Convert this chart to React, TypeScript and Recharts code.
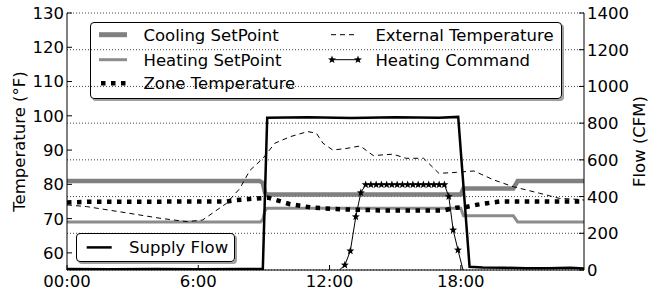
import React from 'react';
import { LineChart, Line, XAxis, YAxis, CartesianGrid, Legend } from 'recharts';

const FONT = '"DejaVu Sans", Verdana, sans-serif';
const FS = 16.5;

// axes
const hourTicks = [0, 6, 12, 18];
const hourLabels: Record<number, string> = { 0: '00:00', 6: '6:00', 12: '12:00', 18: '18:00' };
const hourDomain = [0, 23.63];
const tempTicks = [60, 70, 80, 90, 100, 110, 120, 130];
const flowTicks = [0, 200, 400, 600, 800, 1000, 1200, 1400];

// [hour, °F]
const coolingSetPoint: [number, number][] = [
  [0, 81], [8.8, 81], [8.95, 80.4], [9.05, 77.6], [9.15, 77], [18.0, 77], [18.12, 78.8],
  [20.4, 78.8], [20.6, 81], [23.63, 81],
];
const heatingSetPoint: [number, number][] = [
  [0, 69], [8.85, 69], [8.95, 69.8], [9.05, 72.4], [9.15, 73], [18.0, 73], [18.12, 70.8],
  [20.4, 70.8], [20.6, 69], [23.63, 69],
];
const zoneTemperature: [number, number][] = [
  [0, 74.7], [1, 74.9], [7.3, 75], [7.75, 75.4], [8.5, 75.8], [9.2, 76.1], [10.2, 74.2],
  [11.2, 73.2], [12.6, 72.7], [14.3, 72.4], [17.2, 72.4], [17.8, 73.2], [18.25, 73.4],
  [18.7, 74], [19.2, 74.5], [19.8, 75], [23.63, 75],
];
const externalTemperature: [number, number][] = [
  [0, 74], [0.9, 73.5], [2.7, 71.7], [4.25, 70.1], [5.5, 69.1], [6.2, 69.6], [7.3, 74.5],
  [7.9, 78.8], [8.35, 84], [8.96, 87.6], [9.5, 92], [10.2, 93.9], [11.0, 95.4], [11.4, 94.9],
  [11.7, 92], [12.15, 90], [12.8, 90.5], [13.4, 91.2], [14.0, 88.4], [14.9, 88.8],
  [15.5, 87.6], [16.3, 87.6], [17.0, 83.2], [17.8, 83.5], [18.6, 83.9], [19.5, 81.3],
  [20.4, 79.3], [21.6, 77.4], [22.5, 75.9], [23.4, 75.6], [23.63, 75.4],
];

// [hour, CFM]
const supplyFlow: [number, number][] = [
  [0, 5], [2, 4], [4, 6], [6, 4], [8, 5], [8.95, 5], [9.15, 830], [11, 832], [13, 828],
  [15, 832], [17, 830], [17.88, 834], [18.4, 18], [19, 14], [20, 12], [21, 10], [22, 9],
  [23, 12], [23.63, 8],
];
const heatingCommand: [number, number][] = [
  [12.45, 0], [12.7, 27], [12.95, 104], [13.2, 290], [13.43, 421],
  [13.65, 465], [13.89, 465], [14.13, 465], [14.37, 465], [14.61, 465], [14.85, 465],
  [15.09, 465], [15.33, 465], [15.57, 465], [15.81, 465], [16.05, 465], [16.29, 465],
  [16.53, 465], [16.77, 465], [17.01, 465], [17.25, 465],
  [17.45, 400], [17.65, 218], [17.87, 109], [18.1, 0],
];

const rows = (pts: [number, number][]) => pts.map(([h, v]) => ({ h, v }));

const TL = 5; // inward tick length

const LeftTick = (p: any) => (
  <g>
    <line x1={p.x + 3} x2={p.x + 3 + TL} y1={p.y} y2={p.y} stroke="#000" />
    <text x={p.x} y={p.y} dy="0.36em" textAnchor="end" fontSize={FS} fontFamily={FONT} fill="#000">
      {p.payload.value}
    </text>
  </g>
);

const RightTick = (p: any) => (
  <g>
    <line x1={p.x - 3} x2={p.x - 3 - TL} y1={p.y} y2={p.y} stroke="#000" />
    <text x={p.x} y={p.y} dy="0.36em" textAnchor="start" fontSize={FS} fontFamily={FONT} fill="#000">
      {p.payload.value}
    </text>
  </g>
);

const BottomTick = (p: any) => (
  <g>
    <line x1={p.x} x2={p.x} y1={p.y - 5} y2={p.y - 5 - TL} stroke="#000" />
    <text x={p.x} y={p.y} dy="0.71em" textAnchor="middle" fontSize={FS} fontFamily={FONT} fill="#000">
      {hourLabels[p.payload.value]}
    </text>
  </g>
);

const TopTick = (p: any) => (
  <line x1={p.x} x2={p.x} y1={p.y} y2={p.y + TL} stroke="#000" />
);

const AxisTitle = ({ viewBox, text, dx }: any) => {
  const bx = viewBox.x + dx;
  const cy = viewBox.y + viewBox.height / 2;
  return (
    <text
      transform={`translate(${bx}, ${cy}) rotate(-90)`}
      textAnchor="middle"
      fontSize={FS}
      fontFamily={FONT}
      fill="#000"
    >
      {text}
    </text>
  );
};

const Star = ({ cx, cy, r = 4.2 }: { cx: number; cy: number; r?: number }) => {
  const pts: string[] = [];
  for (let i = 0; i < 10; i++) {
    const rad = i % 2 === 0 ? r : r * 0.42;
    const a = -Math.PI / 2 + (i * Math.PI) / 5;
    pts.push(`${(cx + rad * Math.cos(a)).toFixed(2)},${(cy + rad * Math.sin(a)).toFixed(2)}`);
  }
  return <polygon points={pts.join(' ')} fill="#000" />;
};

const boxStyle = (left: number, top: number, width: number, height: number): React.CSSProperties => ({
  position: 'absolute',
  left,
  top,
  width,
  height,
  boxSizing: 'border-box',
  border: '1px solid #000',
  borderRadius: 4,
  boxShadow: '2px 2px 0 #a0a0a0',
  background: 'transparent',
});

const svgStyle: React.CSSProperties = { position: 'absolute', left: -1, top: -1, overflow: 'visible' };

const LegendBoxes = () => {
  const txt = { fontSize: FS, fontFamily: FONT, fill: '#000' };
  return (
    <div style={{ position: 'relative', width: 657, height: 293 }}>
      <div style={boxStyle(90, 22, 472, 77)}>
        <svg width={472} height={77} style={svgStyle}>
          <line x1={9} x2={37} y1={12.7} y2={12.7} stroke="#808080" strokeWidth={5} />
          <text x={53.5} y={18.7} {...txt}>Cooling SetPoint</text>
          <line x1={9} x2={37} y1={37.7} y2={37.7} stroke="#8c8c8c" strokeWidth={3} />
          <text x={53.5} y={43.7} {...txt}>Heating SetPoint</text>
          <line x1={11} x2={37} y1={61.3} y2={61.3} stroke="#000" strokeWidth={4.5} strokeDasharray="4.5 5.5" />
          <text x={53.5} y={67.3} {...txt}>Zone Temperature</text>
          <line x1={241} x2={268} y1={12.7} y2={12.7} stroke="#000" strokeWidth={1} strokeDasharray="5 4" />
          <text x={285.4} y={18.7} {...txt}>External Temperature</text>
          <line x1={242} x2={268} y1={37.7} y2={37.7} stroke="#000" strokeWidth={1} />
          <Star cx={242} cy={37.7} />
          <Star cx={268} cy={37.7} />
          <text x={285.4} y={43.7} {...txt}>Heating Command</text>
        </svg>
      </div>
      <div style={boxStyle(76, 233, 159, 29)}>
        <svg width={159} height={29} style={svgStyle}>
          <line x1={10.7} x2={35.7} y1={14.4} y2={14.4} stroke="#000" strokeWidth={2.5} />
          <text x={53} y={20.3} {...txt}>Supply Flow</text>
        </svg>
      </div>
    </div>
  );
};

const starDot = (p: any) =>
  p.payload.v > 0 ? (
    <g key={`s-${p.index}`}>
      <Star cx={p.cx} cy={p.cy} />
    </g>
  ) : (
    <g key={`s-${p.index}`} />
  );

export default function App() {
  return (
    <div style={{ position: 'absolute', left: 0, top: 0, fontFamily: FONT, background: '#fff' }}>
      <LineChart width={657} height={293} margin={{ top: 13, right: 0, bottom: 0, left: 0 }}>
        <CartesianGrid
          yAxisId="right"
          vertical={false}
          stroke="#444"
          strokeWidth={1}
          strokeDasharray="1 2"
        />
        <XAxis
          type="number"
          dataKey="h"
          domain={hourDomain}
          ticks={hourTicks}
          interval={0}
          allowDataOverflow
          height={23}
          tickSize={0}
          tickMargin={5}
          tick={BottomTick}
          axisLine={{ stroke: '#000' }}
        />
        <XAxis
          xAxisId="top"
          orientation="top"
          type="number"
          dataKey="h"
          domain={hourDomain}
          ticks={hourTicks}
          interval={0}
          allowDataOverflow
          height={0}
          tickSize={0}
          tickMargin={0}
          tick={TopTick}
          axisLine={{ stroke: '#000' }}
        />
        <YAxis
          yAxisId="left"
          orientation="left"
          width={67}
          domain={[55, 130]}
          ticks={tempTicks}
          interval={0}
          allowDataOverflow
          tickSize={0}
          tickMargin={3}
          tick={LeftTick}
          axisLine={{ stroke: '#000' }}
          label={<AxisTitle text="Temperature (°F)" dx={25.3} />}
        />
        <YAxis
          yAxisId="right"
          orientation="right"
          width={73}
          domain={[0, 1400]}
          ticks={flowTicks}
          interval={0}
          allowDataOverflow
          tickSize={0}
          tickMargin={3}
          tick={RightTick}
          axisLine={{ stroke: '#000' }}
          label={<AxisTitle text="Flow (CFM)" dx={61} />}
        />
        <Legend
          layout="horizontal"
          verticalAlign="middle"
          align="center"
          wrapperStyle={{ left: 0, top: 0, width: 657, height: 293, pointerEvents: 'none' }}
          content={() => <LegendBoxes />}
        />
        <Line
          yAxisId="left"
          data={rows(coolingSetPoint)}
          dataKey="v"
          type="linear"
          stroke="#808080"
          strokeWidth={4.5}
          dot={false}
          isAnimationActive={false}
        />
        <Line
          yAxisId="left"
          data={rows(heatingSetPoint)}
          dataKey="v"
          type="linear"
          stroke="#8c8c8c"
          strokeWidth={3}
          dot={false}
          isAnimationActive={false}
        />
        <Line
          yAxisId="left"
          data={rows(externalTemperature)}
          dataKey="v"
          type="linear"
          stroke="#000"
          strokeWidth={1}
          strokeDasharray="5 4"
          dot={false}
          isAnimationActive={false}
        />
        <Line
          yAxisId="left"
          data={rows(zoneTemperature)}
          dataKey="v"
          type="linear"
          stroke="#000"
          strokeWidth={4.5}
          strokeDasharray="4.5 5.5"
          dot={false}
          isAnimationActive={false}
        />
        <Line
          yAxisId="right"
          data={rows(supplyFlow)}
          dataKey="v"
          type="linear"
          stroke="#000"
          strokeWidth={2.5}
          dot={false}
          isAnimationActive={false}
        />
        <Line
          yAxisId="right"
          data={rows(heatingCommand)}
          dataKey="v"
          type="linear"
          stroke="#000"
          strokeWidth={1}
          dot={starDot}
          isAnimationActive={false}
        />
      </LineChart>
    </div>
  );
}
